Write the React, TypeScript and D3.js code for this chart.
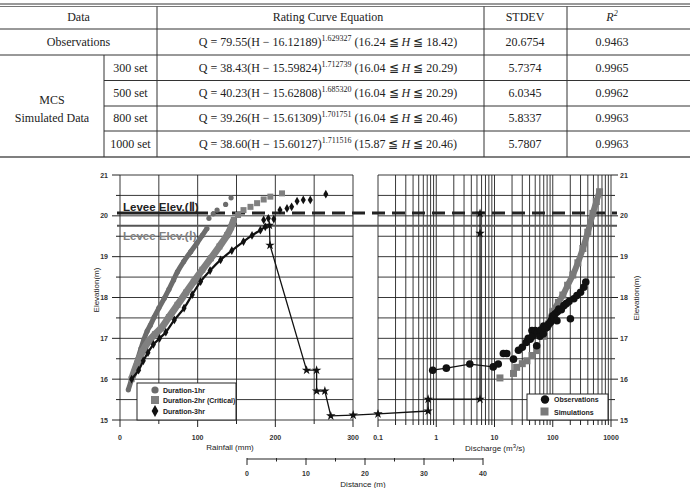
import React from 'react';
import * as d3 from 'd3';

// ---- table data ----
const setLabels = ['300 set', '500 set', '800 set', '1000 set'];
const coefA = ['79.55', '38.43', '40.23', '39.26', '38.60'];
const coefH0 = ['16.12189', '15.59824', '15.62808', '15.61309', '15.60127'];
const coefB = ['1.629327', '1.712739', '1.685320', '1.701751', '1.711516'];
const hMin = ['16.24', '16.04', '16.04', '16.04', '15.87'];
const hMax = ['18.42', '20.29', '20.29', '20.46', '20.46'];
const stdev = ['20.6754', '5.7374', '6.0345', '5.8337', '5.7807'];
const rSquared = ['0.9463', '0.9965', '0.9962', '0.9963', '0.9963'];

// ---- chart data ----
const elevTicks = [15, 16, 17, 18, 19, 20, 21];
const rainTicks = [0, 100, 200, 300];
const qTicks = [0.1, 1, 10, 100, 1000];
const distTicks = [0, 10, 20, 30, 40];
const leveeII = 20.07;
const leveeI = 19.76;

// rainfall (mm), elevation (m)
const dur1: [number, number][] = [
  [10.7, 15.74], [15, 16.0], [19, 16.25], [23, 16.5], [27, 16.75], [31, 16.98], [35, 17.18],
  [39, 17.32], [44, 17.52], [50, 17.74], [57, 17.98], [63, 18.2], [69, 18.43], [74, 18.63],
  [82, 18.88], [91, 19.12], [99, 19.33], [106, 19.52], [112, 19.69],
];
const dur1Top: [number, number][] = [[114.5, 19.94], [120, 20.05], [125, 20.14], [136, 20.28], [143, 20.44]];
const dur2: [number, number][] = [
  [15, 16.0], [22, 16.38], [29, 16.68], [37, 16.93], [45, 17.1], [53, 17.25], [63, 17.52],
  [74, 17.82], [85, 18.12], [95, 18.39], [106, 18.68], [117, 18.96], [128, 19.25], [138, 19.53],
  [143, 19.72], [146.5, 19.9],
];
const dur2Top: [number, number][] = [
  [152, 20.02], [159, 20.14], [168, 20.22], [176.5, 20.31], [185, 20.4], [193.6, 20.47], [208.6, 20.55],
];
const dur3: [number, number][] = [
  [15, 16.0], [24, 16.22], [30, 16.45], [36, 16.65], [43, 16.85], [51, 17.0], [59, 17.15],
  [70, 17.45], [82.5, 17.74], [93, 18.07], [103.8, 18.39], [116, 18.66], [129.5, 18.92],
  [144, 19.15], [159, 19.37], [170, 19.52], [180.8, 19.65], [187, 19.73],
];
const dur3Top: [number, number][] = [
  [185, 19.9], [191, 19.94], [198, 19.92], [206, 20.14], [215, 20.18], [221, 20.22],
  [228, 20.36], [236, 20.39], [245, 20.39], [265, 20.53],
];

// distance (m), elevation (m)
const profile: [number, number][] = [
  [3.8, 19.77], [3.9, 19.28], [10.1, 16.22], [11.8, 16.22], [11.8, 15.71], [13.2, 15.71],
  [14.2, 15.1], [18, 15.12], [22.2, 15.15], [30.7, 15.22], [30.7, 15.51], [39.5, 15.51],
  [39.5, 19.57], [39.5, 20.06],
];

// discharge (m3/s), elevation (m)
const observations: [number, number][] = [
  [0.87, 16.22], [1.49, 16.27], [3.77, 16.37], [9.5, 16.3], [11.6, 16.37], [14.2, 16.63],
  [16.2, 16.63], [21.2, 16.49], [25.8, 16.71], [30, 16.78], [35, 16.9], [38, 17.0], [41, 16.98],
  [44, 17.19], [45, 17.05], [50, 17.19], [53, 16.82], [55, 17.15], [60, 17.05], [62, 17.2],
  [69, 17.11], [70, 17.3], [75, 17.25], [80, 17.27], [85, 17.35], [91, 17.39], [95, 17.45],
  [100, 17.55], [105, 17.5], [110, 17.6], [118, 17.43], [120, 17.65], [127, 17.72], [140, 17.7],
  [155, 17.8], [170, 17.85], [190, 17.9], [201, 17.48], [230, 17.97], [260, 18.05],
  [300, 18.13], [340, 18.25], [369, 18.38],
];
const simulations: [number, number][] = [
  [12.4, 16.03], [21.2, 16.14], [24, 16.29], [30, 16.38], [36, 16.45], [44, 16.58], [53, 16.7],
  [70, 17.05], [85, 17.35], [100, 17.65], [125, 17.88], [149, 18.06], [180, 18.3], [221, 18.55],
  [270, 18.85], [329, 19.2], [400, 19.6], [488, 20.06], [560, 20.35], [636, 20.59],
];

const sans = 'Liberation Sans, Arial, sans-serif';
const serif = 'Liberation Serif, Times New Roman, serif';

const yScale = d3.scaleLinear().domain([15, 21]).range([420, 175]);
const rainScale = d3.scaleLinear().domain([0, 300]).range([120, 353]);
const qScale = d3.scaleLog().domain([0.1, 1000]).range([378, 611]);
const distScale = d3.scaleLinear().domain([0, 40]).range([247, 483]);

const rainLine = d3.line<[number, number]>().x(d => rainScale(d[0])).y(d => yScale(d[1])).curve(d3.curveCatmullRom);
const qLine = d3.line<[number, number]>().x(d => qScale(d[0])).y(d => yScale(d[1])).curve(d3.curveCatmullRom);
const distLine = d3.line<[number, number]>().x(d => distScale(d[0])).y(d => yScale(d[1]));

const diamond = d3.symbol().type(d3.symbolDiamond).size(22)()!;
const star = d3.symbol().type(d3.symbolStar).size(28)()!;

// table layout
const rowY = [17, 42, 67.5, 93, 118, 144];
const colSub = 104, colEq = 157, colSt = 484, colR2 = 567;
const eqX = 328, stX = 525, r2X = 612;

const Equation: React.FC<{ i: number; y: number }> = ({ i, y }) => (
  <text x={eqX} y={y + 4} textAnchor="middle" fontFamily={serif} fontSize={12} fill="#222">
    {`Q = ${coefA[i]}(H − ${coefH0[i]})`}
    <tspan dy={-5} fontSize={8}>{coefB[i]}</tspan>
    <tspan dy={5}>{`  (${hMin[i]} ≦ `}</tspan>
    <tspan fontStyle="italic">H</tspan>
    <tspan>{` ≦ ${hMax[i]})`}</tspan>
  </text>
);

const Table: React.FC = () => (
  <g>
    <line x1={0} x2={690} y1={4} y2={4} stroke="#777" strokeWidth={1.5} />
    <line x1={0} x2={690} y1={6.5} y2={6.5} stroke="#777" strokeWidth={1.2} />
    <line x1={0} x2={690} y1={29} y2={29} stroke="#333" />
    <line x1={0} x2={690} y1={55} y2={55} stroke="#333" />
    {[80.5, 106, 131].map(y => <line key={y} x1={colSub} x2={690} y1={y} y2={y} stroke="#333" />)}
    <line x1={0} x2={690} y1={157} y2={157} stroke="#555" strokeWidth={1.5} />
    <line x1={colEq} x2={colEq} y1={6.5} y2={157} stroke="#333" />
    <line x1={colSt} x2={colSt} y1={6.5} y2={157} stroke="#333" />
    <line x1={colR2} x2={colR2} y1={6.5} y2={157} stroke="#333" />
    <line x1={colSub} x2={colSub} y1={55} y2={157} stroke="#333" />
    <g fontFamily={serif} fontSize={12} fill="#222" textAnchor="middle">
      <text x={colEq / 2} y={rowY[0] + 4}>Data</text>
      <text x={eqX} y={rowY[0] + 4}>Rating Curve Equation</text>
      <text x={stX} y={rowY[0] + 4}>STDEV</text>
      <text x={r2X} y={rowY[0] + 4} fontStyle="italic">R<tspan dy={-5} fontSize={8}>2</tspan></text>
      <text x={colEq / 2} y={rowY[1] + 4}>Observations</text>
      <text x={colSub / 2} y={104}>MCS</text>
      <text x={colSub / 2} y={122}>Simulated Data</text>
      {setLabels.map((s, k) => <text key={s} x={(colSub + colEq) / 2} y={rowY[k + 2] + 4}>{s}</text>)}
      {stdev.map((s, k) => <text key={k} x={stX} y={rowY[k + 1] + 4}>{s}</text>)}
      {rSquared.map((s, k) => <text key={k} x={r2X} y={rowY[k + 1] + 4}>{s}</text>)}
    </g>
    {coefA.map((_, k) => <Equation key={k} i={k} y={rowY[k + 1]} />)}
  </g>
);

const Chart: React.FC = () => {
  const halfTicks = yScale.ticks(12);
  const rainGrid = rainScale.ticks(6);
  const qGrid = qScale.ticks();
  const y0 = yScale(15), y1 = yScale(21);
  return (
    <g>
      {/* grids */}
      <g stroke="#222" strokeWidth={0.9}>
        {halfTicks.map(t => <line key={'lh' + t} x1={rainScale(0)} x2={rainScale(300)} y1={yScale(t)} y2={yScale(t)} />)}
        {rainGrid.map(t => <line key={'lv' + t} x1={rainScale(t)} x2={rainScale(t)} y1={y1} y2={y0} />)}
        {halfTicks.map(t => <line key={'rh' + t} x1={qScale(0.1)} x2={qScale(1000)} y1={yScale(t)} y2={yScale(t)} />)}
        {qGrid.map(t => <line key={'rv' + t} x1={qScale(t)} x2={qScale(t)} y1={y1} y2={y0} />)}
      </g>
      {/* axes ticks */}
      <g stroke="#222" strokeWidth={1}>
        {halfTicks.map(t => (
          <g key={'yt' + t}>
            <line x1={Number.isInteger(t) ? 112 : 116} x2={120} y1={yScale(t)} y2={yScale(t)} />
            <line x1={611} x2={Number.isInteger(t) ? 618 : 615} y1={yScale(t)} y2={yScale(t)} />
          </g>
        ))}
        {rainGrid.map(t => <line key={'xt' + t} x1={rainScale(t)} x2={rainScale(t)} y1={y0} y2={y0 + (t % 100 === 0 ? 7 : 4)} />)}
        {qGrid.map(t => {
          const major = qTicks.includes(+t.toPrecision(3));
          return <line key={'qt' + t} x1={qScale(t)} x2={qScale(t)} y1={y0} y2={y0 + (major ? 7 : 5)} />;
        })}
        <line x1={distScale(0)} x2={distScale(40)} y1={459} y2={459} strokeWidth={1.2} />
        {d3.range(0, 41, 5).map(t => <line key={'dt' + t} x1={distScale(t)} x2={distScale(t)} y1={458} y2={t % 10 === 0 ? 465 : 461.5} />)}
      </g>
      <g fontFamily={sans} fontSize={7} fontWeight="bold" fill="#333">
        {elevTicks.map(t => <text key={'yl' + t} x={108} y={yScale(t) + 2.5} textAnchor="end">{t}</text>)}
        {elevTicks.map(t => <text key={'yr' + t} x={620} y={yScale(t) + 2.5}>{t}</text>)}
        {rainTicks.map(t => <text key={'xl' + t} x={rainScale(t)} y={440} textAnchor="middle">{t}</text>)}
        {qTicks.map(t => <text key={'ql' + t} x={qScale(t)} y={440} textAnchor="middle">{t}</text>)}
        {distTicks.map(t => <text key={'dl' + t} x={distScale(t)} y={476} textAnchor="middle">{t}</text>)}
      </g>
      <g fontFamily={sans} fontSize={8} fill="#222">
        <text x={230} y={450} textAnchor="middle">Rainfall (mm)</text>
        <text x={495} y={451} textAnchor="middle">Discharge (m<tspan dy={-3} fontSize={6}>3</tspan><tspan dy={3}>/s)</tspan></text>
        <text x={363} y={487} textAnchor="middle">Distance (m)</text>
        <text transform="translate(99,290) rotate(-90)" textAnchor="middle">Elevation(m)</text>
        <text transform="translate(639,298) rotate(-90)" textAnchor="middle">Elevation(m)</text>
      </g>

      {/* levee lines */}
      <line x1={117} x2={617} y1={yScale(leveeI)} y2={yScale(leveeI)} stroke="#555" strokeWidth={2} />
      <line x1={117} x2={208} y1={yScale(leveeII)} y2={yScale(leveeII)} stroke="#222" strokeWidth={3} />
      <line x1={212} x2={617} y1={yScale(leveeII)} y2={yScale(leveeII)} stroke="#222" strokeWidth={3} strokeDasharray="13,7" />

      {/* rainfall curves */}
      <path d={rainLine(dur1)!} fill="none" stroke="#6c6c6c" strokeWidth={5} />
      {[...dur1, ...dur1Top].map((d, k) => <circle key={'c1' + k} cx={rainScale(d[0])} cy={yScale(d[1])} r={2.6} fill="#6c6c6c" />)}
      <path d={rainLine(dur2)!} fill="none" stroke="#808080" strokeWidth={7} />
      {[...dur2, ...dur2Top].map((d, k) => <rect key={'s2' + k} x={rainScale(d[0]) - 3} y={yScale(d[1]) - 3} width={6} height={6} fill="#808080" />)}
      <path d={rainLine(dur3)!} fill="none" stroke="#111" strokeWidth={2.2} />
      {[...dur3, ...dur3Top].map((d, k) => <path key={'d3' + k} d={diamond} transform={`translate(${rainScale(d[0])},${yScale(d[1])})`} fill="#111" />)}

      {/* distance profile */}
      <path d={distLine(profile)!} fill="none" stroke="#111" strokeWidth={1.3} />
      {profile.map((d, k) => <path key={'p' + k} d={star} transform={`translate(${distScale(d[0])},${yScale(d[1])})`} fill="#111" />)}

      {/* discharge */}
      <path d={qLine(simulations.slice(8))!} fill="none" stroke="#7a7a7a" strokeWidth={6} />
      {simulations.map((d, k) => <rect key={'sm' + k} x={qScale(d[0]) - 3.5} y={yScale(d[1]) - 3.5} width={7} height={7} fill="#7a7a7a" />)}
      <path d={d3.line<[number, number]>().x(d => qScale(d[0])).y(d => yScale(d[1]))(observations.slice(0, 5))!} fill="none" stroke="#111" strokeWidth={1.3} />
      {observations.map((d, k) => <circle key={'o' + k} cx={qScale(d[0])} cy={yScale(d[1])} r={3.8} fill="#111" />)}

      {/* levee labels */}
      <text x={123} y={211} fontFamily={sans} fontSize={11.5} fontWeight="bold" fill="#222">Levee Elev.(Ⅱ)</text>
      <text x={123} y={240} fontFamily={sans} fontSize={11.5} fontWeight="bold" fill="#808080">Levee Elev.(Ⅰ)</text>

      {/* legends */}
      <g fontFamily={sans} fontSize={7} fontWeight="bold" fill="#222">
        <rect x={137} y={383} width={99} height={37} fill="#fff" stroke="#222" />
        <circle cx={155} cy={390} r={3.6} fill="#6c6c6c" />
        <text x={163} y={392.5}>Duration-1hr</text>
        <rect x={151} y={396} width={8} height={8} fill="#808080" />
        <text x={163} y={403}>Duration-2hr (Critical)</text>
        <path d={d3.symbol().type(d3.symbolDiamond).size(40)()!} transform="translate(155,411)" fill="#111" />
        <text x={163} y={413.5}>Duration-3hr</text>

        <rect x={527} y={394} width={81} height={26} fill="#fff" stroke="#222" />
        <circle cx={545} cy={399.5} r={4.2} fill="#111" />
        <text x={554} y={402}>Observations</text>
        <rect x={540.5} y={407.5} width={8} height={8} fill="#7a7a7a" />
        <text x={554} y={414.5}>Simulations</text>
      </g>
    </g>
  );
};

export default function App() {
  return (
    <svg width={690} height={488} style={{ position: 'absolute', left: 0, top: 0, background: '#fff' }}>
      <rect width={690} height={488} fill="#fff" />
      <Table />
      <Chart />
    </svg>
  );
}
